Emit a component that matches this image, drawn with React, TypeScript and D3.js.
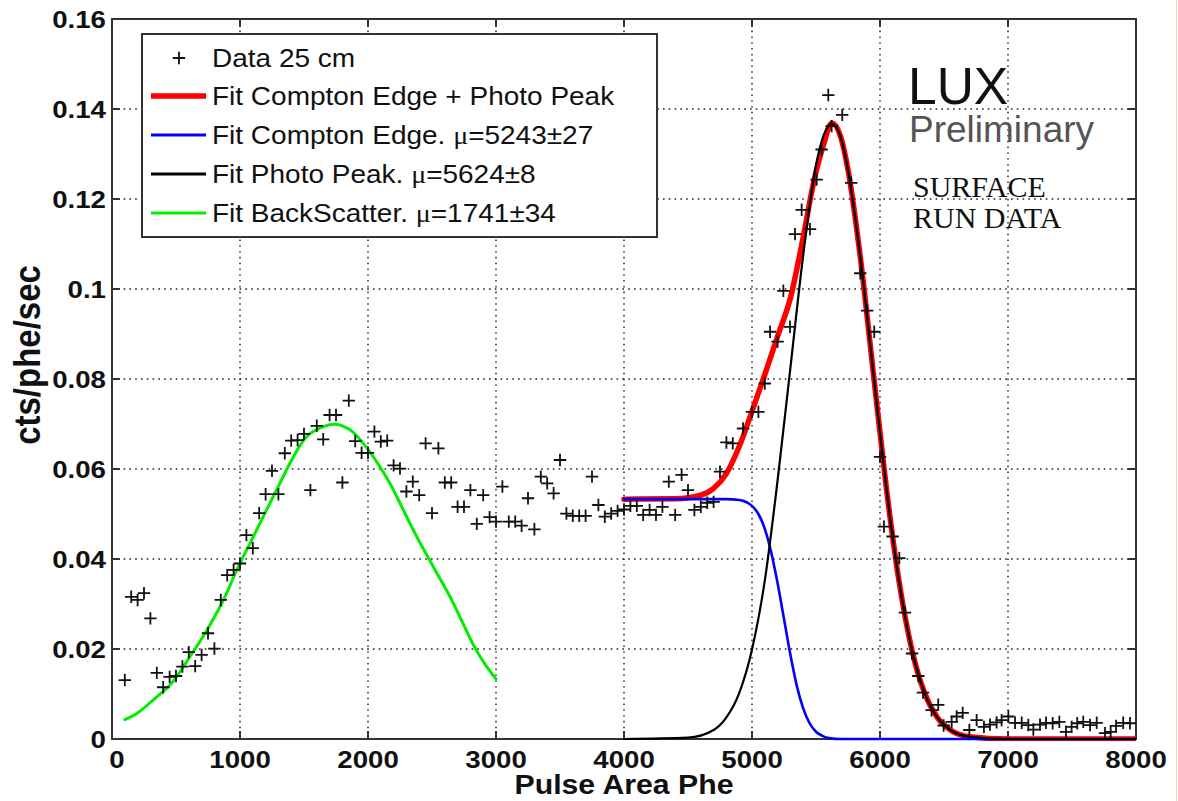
import React from 'react';
import * as d3 from 'd3';

const W = 1178;
const H = 801;

const xTicks = [0, 1000, 2000, 3000, 4000, 5000, 6000, 7000, 8000];
const yTicks = [0, 0.02, 0.04, 0.06, 0.08, 0.1, 0.12, 0.14, 0.16];
const yTickLabels = ['0', '0.02', '0.04', '0.06', '0.08', '0.1', '0.12', '0.14', '0.16'];

// Data 25 cm (pulse area, cts/phe/sec)
const dataPoints: [number, number][] = [
  [100, 0.0131], [150, 0.0316], [200, 0.0309], [250, 0.0324], [300, 0.0268], [350, 0.0147],
  [400, 0.0115], [450, 0.0138], [500, 0.014], [550, 0.0161], [600, 0.0193], [650, 0.0162],
  [700, 0.0187], [750, 0.0235], [800, 0.0201], [850, 0.0309], [900, 0.0364], [950, 0.0376],
  [1000, 0.039], [1050, 0.0453], [1100, 0.0424], [1150, 0.0502], [1200, 0.0544], [1250, 0.0596],
  [1300, 0.0544], [1350, 0.0635], [1400, 0.0663], [1450, 0.0664], [1500, 0.0678], [1550, 0.0553],
  [1600, 0.0696], [1650, 0.0666], [1700, 0.072], [1750, 0.072], [1800, 0.057], [1850, 0.0752],
  [1900, 0.0662], [1950, 0.0636], [2000, 0.0636], [2050, 0.0683], [2100, 0.0661], [2150, 0.0663],
  [2200, 0.0608], [2250, 0.0601], [2300, 0.055], [2350, 0.0572], [2400, 0.0542], [2450, 0.0657],
  [2500, 0.0502], [2550, 0.0646], [2600, 0.057], [2650, 0.057], [2700, 0.0516], [2750, 0.0516],
  [2800, 0.0553], [2850, 0.0478], [2900, 0.0542], [2950, 0.0493], [3000, 0.0483], [3050, 0.0561],
  [3100, 0.0483], [3150, 0.0483], [3200, 0.0474], [3250, 0.0535], [3300, 0.0466], [3350, 0.0583],
  [3400, 0.0568], [3450, 0.0546], [3500, 0.062], [3550, 0.0501], [3600, 0.0496], [3650, 0.0496],
  [3700, 0.0496], [3750, 0.0583], [3800, 0.052], [3850, 0.0494], [3900, 0.0501], [3950, 0.0507],
  [4000, 0.051], [4050, 0.0518], [4100, 0.0518], [4150, 0.0498], [4200, 0.0509], [4250, 0.0498],
  [4300, 0.0516], [4350, 0.0572], [4400, 0.0498], [4450, 0.0587], [4500, 0.0553], [4550, 0.0509],
  [4600, 0.0516], [4650, 0.0525], [4700, 0.0527], [4750, 0.0594], [4800, 0.0659], [4850, 0.0657],
  [4930, 0.069], [5000, 0.0727], [5050, 0.0727], [5100, 0.079], [5141, 0.0905], [5200, 0.0883],
  [5245, 0.0996], [5297, 0.0916], [5336, 0.1122], [5388, 0.1176], [5453, 0.1133], [5505, 0.1243],
  [5544, 0.131], [5596, 0.1431], [5622, 0.1362], [5705, 0.1387], [5775, 0.1236], [5846, 0.1035],
  [5900, 0.0952], [5955, 0.0905], [6000, 0.0627], [6031, 0.0472], [6099, 0.045], [6151, 0.0402],
  [6195, 0.0281], [6250, 0.019], [6299, 0.014], [6336, 0.0103], [6403, 0.0064], [6455, 0.0076],
  [6497, 0.003], [6560, 0.0038], [6599, 0.005], [6646, 0.0058], [6698, 0.002], [6755, 0.0042],
  [6812, 0.0027], [6859, 0.0032], [6911, 0.0037], [6950, 0.0042], [7003, 0.005], [7055, 0.0036],
  [7107, 0.0036], [7159, 0.0031], [7198, 0.0021], [7250, 0.0032], [7297, 0.0036], [7349, 0.0035],
  [7401, 0.0038], [7453, 0.0016], [7497, 0.0027], [7541, 0.0035], [7588, 0.0038], [7641, 0.0031],
  [7693, 0.0036], [7758, 0.0013], [7802, 0.0016], [7844, 0.0029], [7900, 0.0036], [7953, 0.0035],
];

// Fit curves
const fitBackScatter: [number, number][] = [
  [100, 0.0043], [200, 0.0058], [323, 0.0087], [466, 0.0124], [609, 0.0183], [727, 0.0235],
  [857, 0.0301], [987, 0.0383], [1091, 0.0442], [1195, 0.0502], [1299, 0.0561], [1404, 0.062],
  [1521, 0.0672], [1651, 0.0694], [1755, 0.0699], [1859, 0.0687], [1963, 0.0657], [2068, 0.0616],
  [2172, 0.0568], [2276, 0.0509], [2380, 0.045], [2510, 0.0383], [2641, 0.0316], [2730, 0.0264],
  [2818, 0.0212], [2910, 0.0168], [3000, 0.0133],
];

const fitComptonEdge: [number, number][] = [
  [4000, 0.0533], [4600, 0.0533], [4800, 0.0533], [4900, 0.0531], [5000, 0.0518], [5050, 0.05],
  [5100, 0.0467], [5150, 0.0415], [5200, 0.0346], [5250, 0.0267], [5300, 0.0187], [5350, 0.0118],
  [5400, 0.0068], [5450, 0.0035], [5500, 0.0016], [5550, 0.0007], [5600, 0.0002], [5700, 0],
  [8000, 0],
];

const fitPhotoPeak: [number, number][] = [
  [4000, 0], [4500, 0.0003], [4700, 0.002], [4800, 0.0048], [4900, 0.0102], [5000, 0.0199],
  [5100, 0.0352], [5200, 0.0575], [5300, 0.0825], [5400, 0.1075], [5500, 0.1275], [5560, 0.1342],
  [5624, 0.1367], [5690, 0.134], [5750, 0.1264], [5850, 0.1062], [5950, 0.0808], [6050, 0.0557],
  [6150, 0.0348], [6250, 0.0197], [6350, 0.0101], [6450, 0.0047], [6550, 0.002], [6700, 0.0005],
  [7000, 0], [8000, 0],
];

const fitTotal: [number, number][] = [
  [4000, 0.0533], [4400, 0.0534], [4600, 0.0542], [4700, 0.0557], [4800, 0.059], [4900, 0.065],
  [5000, 0.0728], [5100, 0.081], [5200, 0.0895], [5300, 0.098], [5400, 0.1115], [5480, 0.1235],
  [5560, 0.1322], [5624, 0.1369], [5690, 0.1341], [5750, 0.1265], [5850, 0.1062], [5950, 0.0808],
  [6050, 0.0557], [6150, 0.0348], [6250, 0.0197], [6350, 0.0101], [6450, 0.0047], [6550, 0.002],
  [6700, 0.0005], [7000, 0], [8000, 0],
];

const legendItems = [
  { label: 'Data 25 cm', mu: '', color: '#000', kind: 'marker', width: 0 },
  { label: 'Fit Compton Edge + Photo Peak', mu: '', color: '#ff0000', kind: 'line', width: 5.5 },
  { label: 'Fit Compton Edge. ', mu: '=5243±27', color: '#0000ff', kind: 'line', width: 3 },
  { label: 'Fit Photo Peak. ', mu: '=5624±8', color: '#000000', kind: 'line', width: 3 },
  { label: 'Fit BackScatter. ', mu: '=1741±34', color: '#00ee00', kind: 'line', width: 3 },
];

const SANS = '"Liberation Sans", Arial, Helvetica, sans-serif';
const SERIF = '"Liberation Serif", "Times New Roman", serif';
const SX = 1.12;

export default function App() {
  const left = 112, right = 1136, top = 19, bottom = 739;
  const x = d3.scaleLinear().domain([0, 8000]).range([left, right]);
  const y = d3.scaleLinear().domain([0, 0.16]).range([bottom, top]);
  const line = d3
    .line<[number, number]>()
    .x((d) => x(d[0]))
    .y((d) => y(d[1]))
    .curve(d3.curveMonotoneX);
  const smooth = d3
    .line<[number, number]>()
    .x((d) => x(d[0]))
    .y((d) => y(d[1]))
    .curve(d3.curveCatmullRom.alpha(0.5));

  const gridX = xTicks.filter((t) => t > 0 && t < 8000);
  const gridY = yTicks.filter((t) => t > 0 && t < 0.16);
  const tickLen = 8;

  const cross = (cx: number, cy: number, s: number) =>
    `M${cx - s},${cy}H${cx + s}M${cx},${cy - s}V${cy + s}`;

  const legendRowY = [58, 96, 135, 174, 213];

  return (
    <svg
      width={W}
      height={H}
      viewBox={`0 0 ${W} ${H}`}
      style={{ position: 'absolute', left: 0, top: 0, background: '#fff' }}
    >
      <rect x={0} y={0} width={W} height={H} fill="#fff" />
      <defs>
        <clipPath id="plot">
          <rect x={left} y={top} width={right - left} height={bottom - top + 2} />
        </clipPath>
      </defs>

      {/* grid */}
      <g stroke="#222" strokeWidth={1.4} strokeDasharray="1.6 4.2">
        {gridX.map((t) => (
          <line key={'gx' + t} x1={x(t)} x2={x(t)} y1={top} y2={bottom} />
        ))}
        {gridY.map((t) => (
          <line key={'gy' + t} x1={left} x2={right} y1={y(t)} y2={y(t)} />
        ))}
      </g>

      {/* frame and ticks */}
      <g stroke="#333" strokeWidth={2} fill="none">
        <rect x={left} y={top} width={right - left} height={bottom - top} />
        {xTicks.map((t) => (
          <g key={'xt' + t}>
            <line x1={x(t)} x2={x(t)} y1={bottom} y2={bottom - tickLen} />
            <line x1={x(t)} x2={x(t)} y1={top} y2={top + tickLen} />
          </g>
        ))}
        {yTicks.map((t) => (
          <g key={'yt' + t}>
            <line x1={left} x2={left + tickLen} y1={y(t)} y2={y(t)} />
            <line x1={right} x2={right - tickLen} y1={y(t)} y2={y(t)} />
          </g>
        ))}
      </g>

      {/* fits */}
      <g clipPath="url(#plot)" fill="none" strokeLinejoin="round" strokeLinecap="round">
        <path d={line(fitTotal) || ''} stroke="#ff0000" strokeWidth={5.5} />
        <path d={line(fitComptonEdge) || ''} stroke="#0000ff" strokeWidth={2.6} />
        <path d={line(fitPhotoPeak) || ''} stroke="#000" strokeWidth={2.2} />
        <path d={smooth(fitBackScatter) || ''} stroke="#00ee00" strokeWidth={3} />
      </g>

      {/* data markers */}
      <g stroke="#111" strokeWidth={1.8} fill="none">
        {dataPoints.map((d, i) => (
          <path key={'p' + i} d={cross(x(d[0]), y(d[1]), 6.2)} />
        ))}
      </g>

      {/* tick labels */}
      <g fontFamily={SANS} fontWeight="bold" fontSize={24.7} fill="#111">
        {yTicks.map((t, i) => (
          <g key={'yl' + t} transform={`translate(106,${y(t) + 9}) scale(${SX},1)`}>
            <text textAnchor="end">{yTickLabels[i]}</text>
          </g>
        ))}
        {xTicks.map((t) => (
          <g key={'xl' + t} transform={`translate(${x(t) + (t === 0 ? 5 : 0)},768) scale(${SX},1)`}>
            <text textAnchor="middle">{String(t)}</text>
          </g>
        ))}
      </g>

      {/* axis titles */}
      <g fontFamily={SANS} fontWeight="bold" fill="#111">
        <g transform={`translate(624,794) scale(${SX},1)`}>
          <text textAnchor="middle" fontSize={27}>Pulse Area Phe</text>
        </g>
        <g transform={`translate(40,355) scale(${SX},1) rotate(-90)`}>
          <text textAnchor="middle" fontSize={33}>cts/phe/sec</text>
        </g>
      </g>

      {/* legend */}
      <g>
        <rect x={142} y={34} width={515} height={203} fill="#fff" stroke="#333" strokeWidth={2} />
        {legendItems.map((it, i) => {
          const cy = legendRowY[i];
          return (
            <g key={'lg' + i}>
              {it.kind === 'marker' ? (
                <path d={cross(179, cy, 6.2)} stroke="#111" strokeWidth={1.8} fill="none" />
              ) : (
                <line x1={151} x2={206} y1={cy} y2={cy} stroke={it.color} strokeWidth={it.width} />
              )}
              <g transform={`translate(212,${cy + 9}) scale(${SX},1)`}>
                <text fontFamily={SANS} fontSize={25} fill="#111">
                  {it.label}
                  {it.mu ? (
                    <>
                      <tspan fontFamily={SERIF} fontSize={25}>μ</tspan>
                      <tspan>{it.mu}</tspan>
                    </>
                  ) : null}
                </text>
              </g>
            </g>
          );
        })}
      </g>

      {/* annotations */}
      <text x={908} y={104} fontFamily={SANS} fontSize={51.5} fill="#111">LUX</text>
      <text x={909} y={142} fontFamily={SANS} fontSize={37} fill="#555">Preliminary</text>
      <text x={913} y={197} fontFamily={SERIF} fontSize={30} fill="#111">SURFACE</text>
      <text x={913} y={228} fontFamily={SERIF} fontSize={30} fill="#111">RUN DATA</text>

      <line x1={1176.5} x2={1176.5} y1={0} y2={H} stroke="#f5d2c0" strokeWidth={1} />
    </svg>
  );
}
